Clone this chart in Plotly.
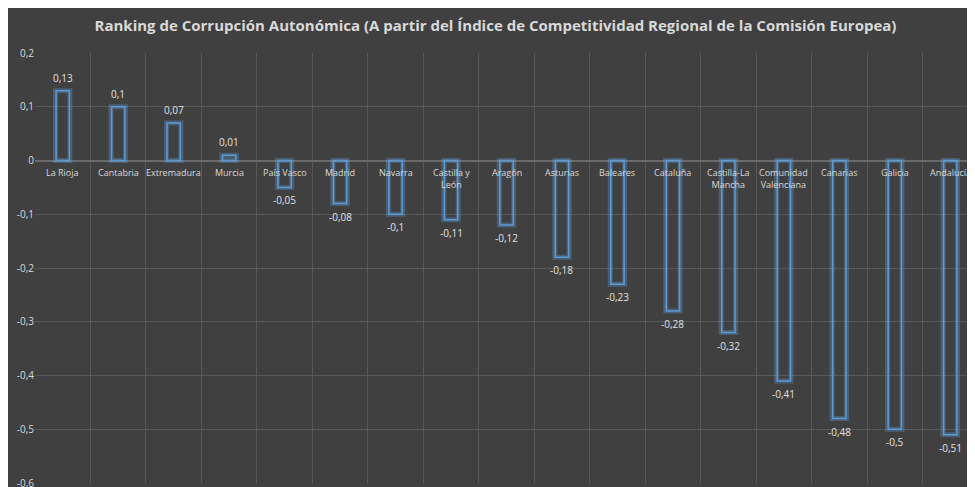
import plotly.graph_objects as go

regions = ["La Rioja", "Cantabria", "Extremadura", "Murcia", "País Vasco", "Madrid", "Navarra",
           "Castilla y<br>León", "Aragón", "Asturias", "Baleares", "Cataluña", "Castilla-La<br>Mancha",
           "Comunidad<br>Valenciana", "Canarias", "Galicia", "Andalucía"]
values = [0.13, 0.1, 0.07, 0.01, -0.05, -0.08, -0.1, -0.11, -0.12, -0.18, -0.23, -0.28, -0.32,
          -0.41, -0.48, -0.5, -0.51]
labels = [str(v).replace(".", ",") for v in values]

x = list(range(len(regions)))

fig = go.Figure()
# glow
fig.add_trace(go.Bar(x=x, y=values, width=0.26, marker=dict(color="rgba(0,0,0,0)",
              line=dict(color="rgba(100,170,240,0.3)", width=5)), hoverinfo="skip"))
fig.add_trace(go.Bar(x=x, y=values, width=0.24, marker=dict(color="rgba(0,0,0,0)",
              line=dict(color="#5b9bd5", width=1.5))))

for i, r in enumerate(regions):
    fig.add_annotation(x=i, y=0, text=r, showarrow=False, yanchor="top", yshift=-3,
                       font=dict(color="#d9d9d9", size=9))
    fig.add_annotation(x=i, y=values[i], text=labels[i], showarrow=False,
                       yanchor="bottom" if values[i] >= 0 else "top",
                       yshift=4 if values[i] >= 0 else -4,
                       font=dict(color="#e0e0e0", size=10))

fig.update_layout(
    width=975, height=487, barmode="overlay", showlegend=False,
    paper_bgcolor="#404040", plot_bgcolor="#404040",
    margin=dict(l=27, r=5, t=45, b=12),
    font=dict(family="Open Sans, sans-serif", color="#d9d9d9"),
    title=dict(text="<b>Ranking de Corrupción Autonómica (A partir del Índice de Competitividad Regional de la Comisión Europea)</b>",
               x=0.5, y=0.975, font=dict(size=15, color="#d9d9d9")),
    xaxis=dict(range=[-0.5, len(regions) - 0.5], tickvals=[i - 0.5 for i in range(len(regions) + 1)],
               showticklabels=False, showgrid=True, gridcolor="#595959", zeroline=False),
    yaxis=dict(range=[-0.6, 0.2], showgrid=True, gridcolor="#595959",
               zeroline=True, zerolinecolor="#6a6a6a", tickfont=dict(size=10, color="#d9d9d9"),
               tickvals=[0.2, 0.1, 0, -0.1, -0.2, -0.3, -0.4, -0.5, -0.6],
               ticktext=["0,2", "0,1", "0", "-0,1", "-0,2", "-0,3", "-0,4", "-0,5", "-0,6"]),
)

fig.write_html("out.html")
